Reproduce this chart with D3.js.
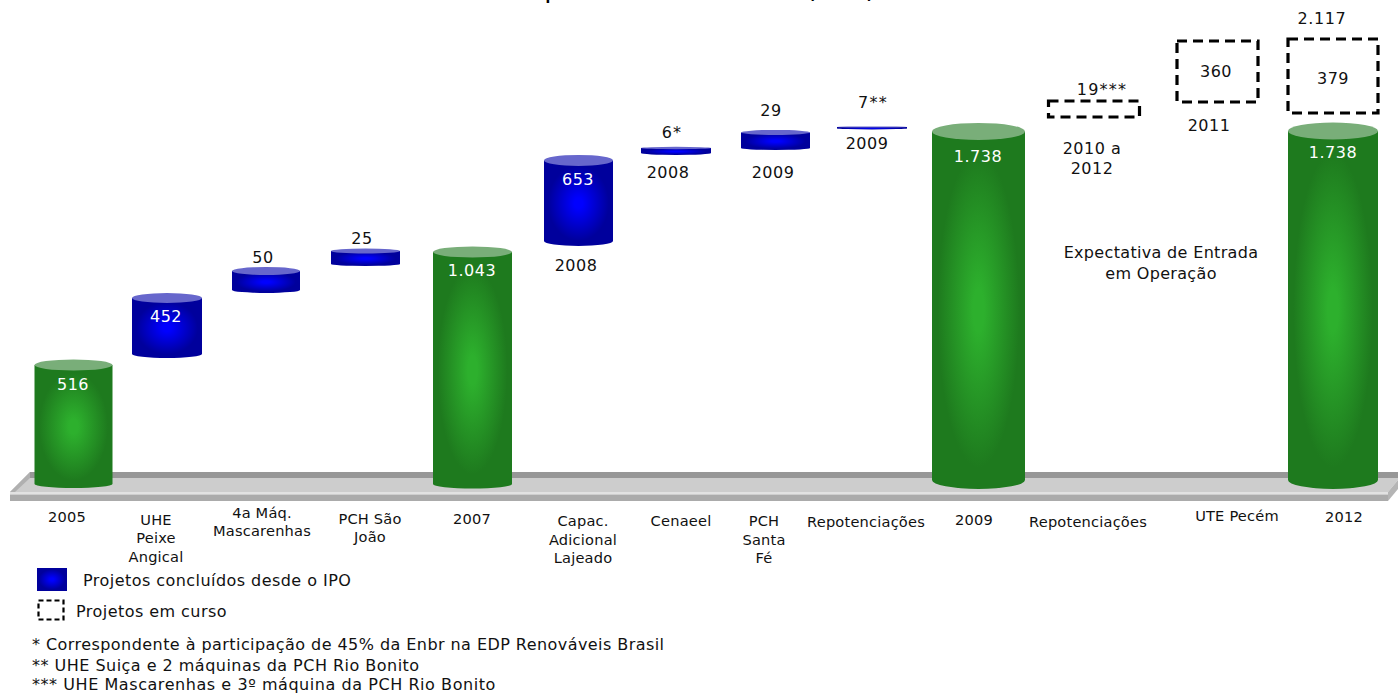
<!DOCTYPE html>
<html><head><meta charset="utf-8">
<script src="https://cdn.jsdelivr.net/npm/d3@7/dist/d3.min.js"></script>
<style>html,body{margin:0;padding:0;background:#fff;overflow:hidden}svg{display:block;font-family:"DejaVu Sans",sans-serif}</style>
</head><body><svg id="c" width="1398" height="693"></svg>
<script>
// ---- data ----
const title = "Capacidade Instalada (MW)";
const categories = ["2005","UHE Peixe Angical","4a Máq. Mascarenhas","PCH São João","2007","Capac. Adicional Lajeado","Cenaeel","PCH Santa Fé","Repot. 2009","2009","Repot. 2010-12","UTE Pecém","Projetos 2012","2012"];
const valueLabels = ["516","452","50","25","1.043","653","6*","29","7**","1.738","19***","360","379","1.738"];
const kinds = ["total","done","done","done","total","done","done","done","done","total","planned","planned","planned","total"];
// bar extents as drawn in the reference (its axis is not proportional to the labels)
const plotLow  = [0,650,970,1100,0,1215,1655,1680,1778,20,1835,1910,1855,20];
const plotHigh = [595,930,1065,1165,1160,1618,1680,1758,1785,1763,1915,2215,2225,1765];
const totalAbove = "2.117";
const legendItems = ["Projetos concluídos desde o IPO","Projetos em curso"];
const footnotes = ["* Correspondente à participação de 45% da Enbr na EDP Renováveis Brasil","** UHE Suiça e 2 máquinas da PCH Rio Bonito","*** UHE Mascarenhas e 3º máquina da PCH Rio Bonito"];
const note = ["Expectativa de Entrada","em Operação"];

// ---- layout ----
const svg=d3.select("#c");
const y=d3.scaleLinear().domain([0,2500]).range([484,-16]);
const x=d3.scaleOrdinal().domain(categories).range([73.5,167,266,365.5,472.5,578.5,676,775.5,872,978.5,1094,1217.5,1333,1333]);
const bw=d3.scaleOrdinal().domain(categories).range([78,70,68,69,79,69,70,69,70,93,91,81,90,90]);
const ry=d3.scaleOrdinal().domain(categories).range([5.5,5,4,2.5,5.5,5.5,1.2,2.5,0.6,8.5,0,0,0,8.5]);
const ryBottom=d3.scaleOrdinal().domain(categories).range([4,4,3,2,4.5,5,2,2,1,9,0,0,0,9]);

const defs=svg.append("defs");
function grad(id,c0,c1){
  const g=defs.append("radialGradient").attr("id",id).attr("cx","50%").attr("cy","50%").attr("r","50%");
  g.append("stop").attr("offset","0%").attr("stop-color",c0);
  g.append("stop").attr("offset","12%").attr("stop-color",c0);
  g.append("stop").attr("offset","88%").attr("stop-color",c1);
  g.append("stop").attr("offset","100%").attr("stop-color",c1);
}
grad("gGreen","#2db02d","#1e7a1e");
grad("gBlue","#0000ff","#00009c");

// platform
const plat=svg.append("g");
plat.append("polygon").attr("points","30,472 1398,472 1398,480 1388,492 10,492").attr("fill","#cdcdcd");
plat.append("rect").attr("x",30).attr("y",472).attr("width",1368).attr("height",6).attr("fill","#979797");
plat.append("polygon").attr("points","30,472 30,478 15,492 10,492").attr("fill","#b0b0b0");
plat.append("rect").attr("x",10).attr("y",492).attr("width",1378).attr("height",2.5).attr("fill","#e2e2e2");
plat.append("rect").attr("x",10).attr("y",494.5).attr("width",1378).attr("height",6.5).attr("fill","#ababab");
plat.append("polygon").attr("points","1388,492 1398,480 1398,489 1388,501").attr("fill","#b5b5b5");

function cylinder(cat,low,high,kind){
  const c=x(cat),w=bw(cat),t=y(high),b=y(low),rt=ry(cat),rb=ryBottom(cat);
  const l=c-w/2,r=c+w/2;
  const p=d3.path();
  p.moveTo(l,t);p.lineTo(l,b);
  const g=svg.append("g");
  g.append("path").attr("d",`${p.toString()}A${w/2},${rb} 0 0 0 ${r},${b}L${r},${t}Z`)
    .attr("fill",kind==="total"?"url(#gGreen)":"url(#gBlue)");
  g.append("ellipse").attr("cx",c).attr("cy",t).attr("rx",w/2).attr("ry",rt)
    .attr("fill",kind==="total"?"#79ae79":"#6767cc");
}
categories.forEach((c,i)=>{
  if(kinds[i]==="planned") return;
  cylinder(c,plotLow[i],plotHigh[i],kinds[i]);
});

// planned (dashed) boxes
categories.forEach((c,i)=>{
  if(kinds[i]!=="planned") return;
  svg.append("rect").attr("x",x(c)-bw(c)/2).attr("y",y(plotHigh[i])).attr("width",bw(c)).attr("height",y(plotLow[i])-y(plotHigh[i]))
    .attr("fill","none").attr("stroke","#000").attr("stroke-width",3.2).attr("stroke-dasharray","10,6");
});

function txt(s,tx,ty,size,fill,anchor,ls){
  return svg.append("text").attr("x",tx).attr("y",ty).attr("dominant-baseline","central").attr("text-anchor",anchor||"middle")
    .attr("font-size",size).attr("fill",fill||"#111").attr("letter-spacing",ls||0).text(s);
}
// title (cut by the top edge of the picture, as in the reference)
svg.append("text").attr("x",876).attr("y",-3).attr("text-anchor","end").attr("font-size",26.7).attr("fill","#000").text(title);

// value labels
const valuePos=[[73,384],[166,316],[263,257],[362,238],[472,270],[578,179],[672,132],[771,110],[873,102],[978,156],[1102,89],[1216,71],[1333,78],[1333,152]];
valueLabels.forEach((s,i)=>{
  const white=kinds[i]==="total"||s==="452"||s==="653";
  txt(s,valuePos[i][0],valuePos[i][1],16,white?"#fff":"#111","middle",s.includes("*")?1.2:0.5);
});
txt(totalAbove,1322,18,16,"#111","middle",0.6);

// year sub-labels
[["2008",576,265],["2008",668,172],["2009",773,172],["2009",867,143],["2010 a",1092,148],["2012",1092,168],["2011",1209,125]]
 .forEach(d=>txt(d[0],d[1],d[2],16,"#111","middle",0.5));

// category labels
[["2005",67,516],["UHE",156,519],["Peixe",156,537],["Angical",156,556],["4a Máq.",262,512],["Mascarenhas",262,530],["PCH São",370,518],["João",370,536],
 ["2007",472,518],["Capac.",583,520],["Adicional",583,539],["Lajeado",583,557],["Cenaeel",681,520],["PCH",764,520],["Santa",764,539],["Fé",764,557],
 ["Repotenciações",866,521],["2009",974,519],["Repotenciações",1088,521],["UTE Pecém",1237,515],["2012",1344,516]]
 .forEach(d=>txt(d[0],d[1],d[2],14.6,"#111","middle",0.2));

note.forEach((s,i)=>txt(s,1161,252+i*21,16,"#111","middle",0.33));

// legend
svg.append("rect").attr("x",37).attr("y",568).attr("width",30).attr("height",23).attr("fill","url(#gBlue)");
svg.append("rect").attr("x",38.5).attr("y",600.5).attr("width",25).attr("height",19).attr("fill","none").attr("stroke","#000").attr("stroke-width",2.2).attr("stroke-dasharray","5,3");
txt(legendItems[0],83,580,16,"#111","start",0.45);
txt(legendItems[1],76,611,16,"#111","start",0.45);
footnotes.forEach((s,i)=>txt(s,32,[644,665,684][i],16,"#111","start",[0.44,0.48,0.56][i]));
</script></body></html>
